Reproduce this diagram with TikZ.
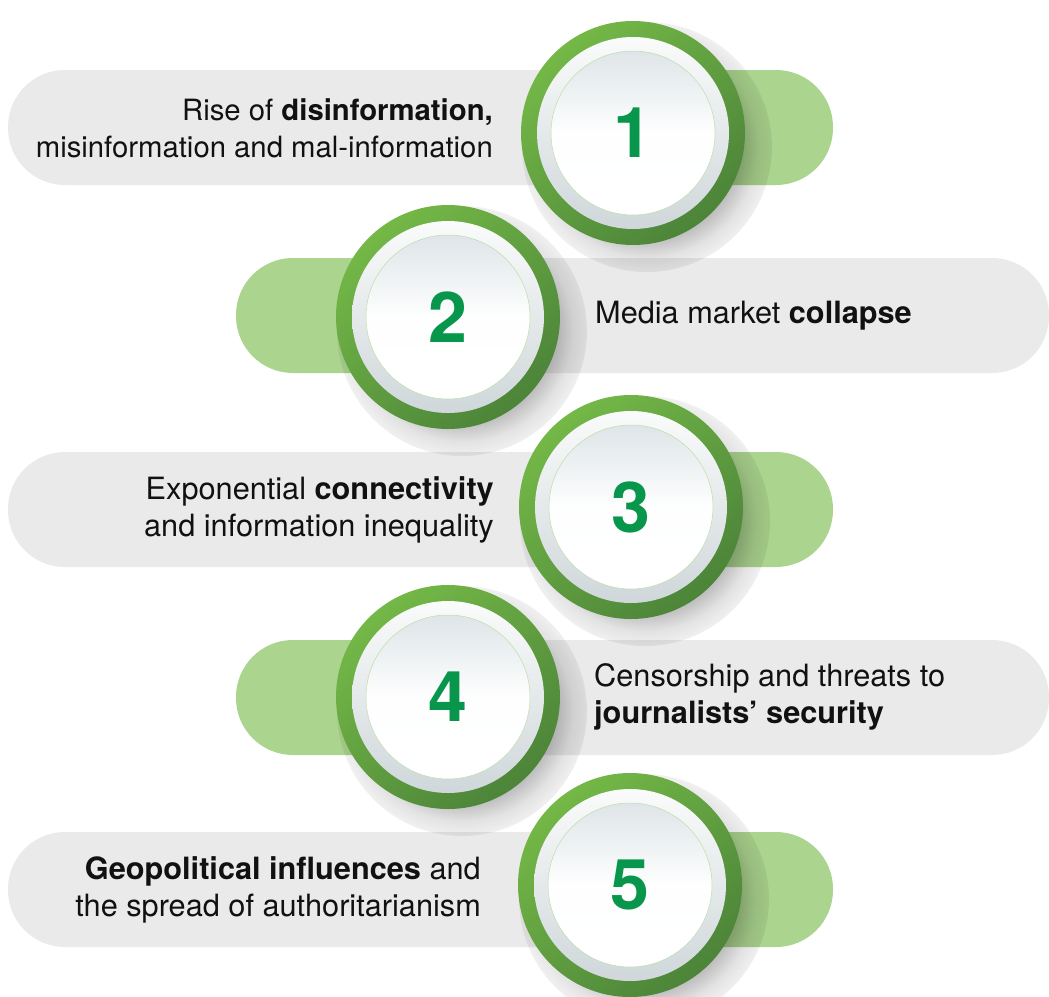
\documentclass[tikz,border=0pt]{standalone}
\usepackage{fontspec}
\setmainfont{TeX Gyre Heros}
\usetikzlibrary{fadings}
\definecolor{pillgray}{HTML}{EAEAEA}
\definecolor{pillgreen}{HTML}{ABD48F}
\definecolor{ringlight}{HTML}{74B847}
\definecolor{ringdark}{HTML}{4C8439}
\definecolor{numgreen}{HTML}{07964B}
\definecolor{wringtop}{HTML}{FAFBFB}
\definecolor{wringbot}{HTML}{CFD7DA}
\definecolor{disctop}{HTML}{DEE5E8}
\definecolor{discline}{HTML}{BFDDAA}
\definecolor{txt}{HTML}{111111}
\pgfdeclareradialshading{softshadowshade}{\pgfpointorigin}{color(0bp)=(white); color(12bp)=(white); color(17bp)=(white!62!black); color(22bp)=(white!22!black); color(28bp)=(black); color(50bp)=(black)}
\pgfdeclarefading{softshadow}{\pgfuseshading{softshadowshade}}
\tikzset{
  graypill/.style={fill=pillgray, rounded corners=57pt},
  greenpill/.style={fill=pillgreen, rounded corners=57pt},
  shadowdisc/.style={fill=black, fill opacity=0.5, path fading=softshadow},
  ringshade/.style={top color=ringlight, bottom color=ringdark, shading angle=40},
  wringshade/.style={top color=wringtop, bottom color=wringbot},
  discshade/.style={top color=disctop, bottom color=white, middle color=white!97!disctop, draw=discline, line width=0.5pt},
  numtext/.style={text=numgreen, font=\fontsize{70}{70}\selectfont\bfseries, inner sep=0pt},
  lbl/.style={text=txt, font=\fontsize{30.7}{37.5}\selectfont, inner sep=0pt},
}
\newcommand\badgecircle[4]{%
  \path[shadowdisc] ([shift={(14,14)}]#2,#3) circle[radius=125];
  \path[ringshade] (#2,#3) circle[radius=112];
  \path[wringshade] (#2,#3) circle[radius=96];
  \path[discshade] (#2,#3) circle[radius=82];
  \node[numtext] (#1) at (#2,#3) {#4};
}
\begin{document}
\begin{tikzpicture}[x=1pt,y=-1pt]
\useasboundingbox (0,0) rectangle (1049,996);
\fill[white] (0,0) rectangle (1049,996);
\begin{scope}
\clip (0,0) rectangle (1049,996);
% row 1
\path[greenpill] (560,70) rectangle (833,185);
\path[graypill] (8,70) rectangle (640,185);
% row 2
\path[greenpill] (236,258) rectangle (520,373);
\path[graypill] (440,258) rectangle (1049,373);
% row 3
\path[greenpill] (560,452) rectangle (833,567);
\path[graypill] (8,452) rectangle (640,567);
% row 4
\path[greenpill] (236,640) rectangle (520,755);
\path[graypill] (440,640) rectangle (1049,755);
% row 5
\path[greenpill] (560,832) rectangle (833,947);
\path[graypill] (8,832) rectangle (640,947);

\badgecircle{n1}{633}{133}{1}
\badgecircle{n2}{448}{317}{2}
\badgecircle{n3}{631}{507}{3}
\badgecircle{n4}{448}{697}{4}
\badgecircle{n5}{630}{885}{5}
\end{scope}

\node[lbl, font=\fontsize{29.3}{37}\selectfont, anchor=east, align=right] (t1) at (493,128) {Rise of \textbf{disinformation,}\\misinformation and mal-information};
\node[lbl, anchor=west, align=left] (t2) at (595,316) {Media market \textbf{collapse}};
\node[lbl, anchor=east, align=right] (t3) at (494,510) {Exponential \textbf{connectivity}\\and information inequality};
\node[lbl, anchor=west, align=left] (t4) at (594,697) {Censorship and threats to\\\textbf{journalists’ security}};
\node[lbl, anchor=east, align=right] (t5) at (481,890) {\textbf{Geopolitical influences} and\\the spread of authoritarianism};
\end{tikzpicture}
\end{document}
